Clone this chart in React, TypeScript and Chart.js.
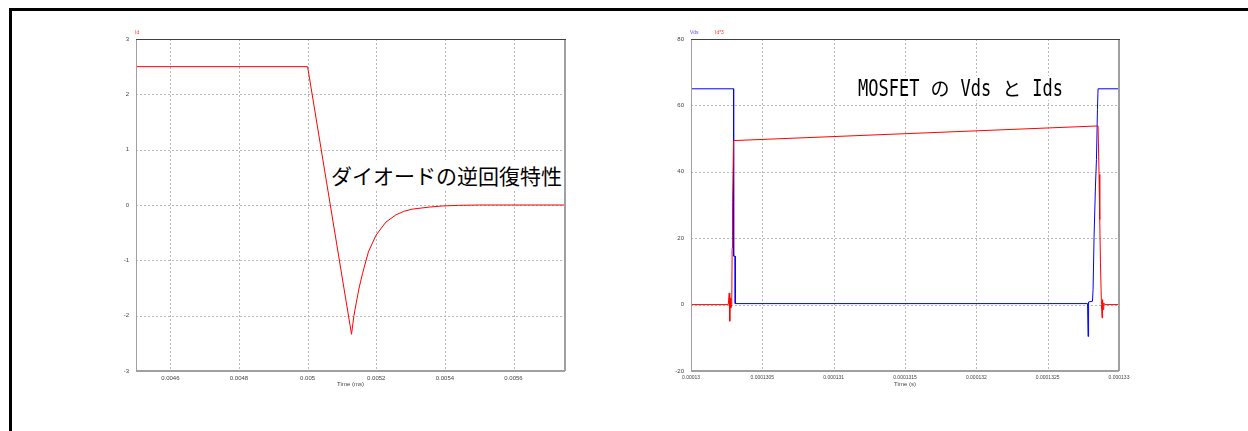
import React, { useEffect, useRef } from "react";
import { Chart, registerables } from "chart.js";

Chart.register(...registerables);
Chart.defaults.font.family = "'Liberation Sans', Arial, sans-serif";

// ---------- Left chart: diode reverse recovery (Id) ----------
const leftTime = [
  0.0045, 0.005, 0.005128, 0.005135, 0.005142, 0.00515, 0.00516, 0.005177,
  0.005199, 0.005228, 0.005257, 0.00528, 0.005305, 0.005354, 0.005392,
  0.00544, 0.0055, 0.00575,
];
const leftId = [
  2.5, 2.5, -2.336, -2.0, -1.76, -1.5, -1.24, -0.85, -0.55, -0.31, -0.18,
  -0.115, -0.075, -0.038, -0.018, -0.006, 0, 0,
];
const leftXTicks = [0.0046, 0.0048, 0.005, 0.0052, 0.0054, 0.0056];
const leftXLabels = ["0.0046", "0.0048", "0.005", "0.0052", "0.0054", "0.0056"];
const leftYTicks = [3, 2, 1, 0, -1, -2, -3];
const leftYLabels = ["3", "2", "1", "0", "-1", "-2", "-3"];
const leftXRange = [0.0045, 0.00575];
const leftYRange = [-3, 3];
const leftAxisTitle = "Time (ms)";
const leftSeriesNames = ["Id"];
const leftNote = "ダイオードの逆回復特性";

// ---------- Right chart: MOSFET Vds and Id*3 ----------
const rightVdsTime = [
  0.00013, 0.0001302982, 0.000130299, 0.000130309, 0.0001303101,
  0.0001327797, 0.0001327832, 0.0001327867, 0.000132814, 0.0001328182,
  0.0001328252, 0.000132835, 0.000132842, 0.000132849, 0.0001328532,
  0.000133,
];
const rightVds = [
  65, 65, 14.6, 14.6, 0.3, 0.3, -9.6, 0.8, 1.0, 4.5, 20.2, 35.7, 43.7, 58.8,
  65, 65,
];
const rightIdTime = [
  0.00013, 0.0001302611, 0.0001302681, 0.0001302716, 0.0001302751,
  0.0001302786, 0.0001302856, 0.0001302884, 0.0001302912, 0.0001302982,
  0.0001328476, 0.0001328532, 0.0001328602, 0.0001328651, 0.00013287,
  0.000132877, 0.0001328812, 0.0001328847, 0.0001328882, 0.0001328931,
  0.0001329001, 0.000133,
];
const rightId3 = [
  0, 0, 3.5, -5, 2, -1, 0, 17, 30.7, 49.4, 53.8, 53.8, 39.2, 25.6, 12.6, 0,
  -4, 1.5, -1.5, 0.5, 0, 0,
];
const rightXTicks = [
  0.00013, 0.0001305, 0.000131, 0.0001315, 0.000132, 0.0001325, 0.000133,
];
const rightXLabels = [
  "0.00013", "0.0001305", "0.000131", "0.0001315", "0.000132", "0.0001325",
  "0.000133",
];
const rightYTicks = [80, 60, 40, 20, 0, -20];
const rightYLabels = ["80", "60", "40", "20", "0", "-20"];
const rightXRange = [0.00013, 0.000133];
const rightYRange = [-20, 80];
const rightAxisTitle = "Time (s)";
const rightSeriesNames = ["Vds", "Id*3"];
const rightNoteParts = ["MOSFET", " ", "の", " ", "Vds", " ", "と", " ", "Ids"];

type Series = { xs: number[]; ys: number[]; color: string };

type PlotProps = {
  pageLeft: number;
  pageTop: number;
  width: number;
  height: number;
  yAxisWidth: number;
  padRight: number;
  padTop: number;
  padBottom: number;
  xAxisHeight: number;
  xRange: number[];
  yRange: number[];
  xTicks: number[];
  xLabels: string[];
  yTicks: number[];
  yLabels: string[];
  xFontSize: number;
  axisTitle: string;
  series: Series[];
  names: string[];
  nameColors: string[];
  nameOffsets: number[];
};

function Plot(p: PlotProps) {
  const ref = useRef<HTMLCanvasElement | null>(null);
  useEffect(() => {
    if (!ref.current) return;
    const frame = {
      id: "frame",
      beforeDatasetsDraw(chart: any) {
        const { ctx, chartArea } = chart;
        const { left, right, top, bottom } = chartArea;
        const xs = chart.scales.x;
        const ys = chart.scales.y;
        ctx.save();
        ctx.strokeStyle = "#b8b8b8";
        ctx.lineWidth = 1;
        ctx.setLineDash([2, 2]);
        p.xTicks.forEach((v) => {
          const px = Math.round(xs.getPixelForValue(v)) + 0.5;
          ctx.beginPath();
          ctx.moveTo(px, top);
          ctx.lineTo(px, bottom);
          ctx.stroke();
        });
        p.yTicks.forEach((v) => {
          const py = Math.round(ys.getPixelForValue(v)) + 0.5;
          ctx.beginPath();
          ctx.moveTo(left, py);
          ctx.lineTo(right, py);
          ctx.stroke();
        });
        ctx.restore();
      },
      afterDatasetsDraw(chart: any) {
        const { ctx, chartArea } = chart;
        const { left, right, top, bottom } = chartArea;
        ctx.save();
        ctx.setLineDash([]);
        ctx.strokeStyle = "#a0a0a0";
        ctx.lineWidth = 1;
        ctx.beginPath();
        ctx.moveTo(Math.round(left) + 0.5, top);
        ctx.lineTo(Math.round(left) + 0.5, bottom);
        ctx.stroke();
        ctx.lineWidth = 2;
        ctx.beginPath();
        ctx.moveTo(left, Math.round(bottom));
        ctx.lineTo(right, Math.round(bottom));
        ctx.stroke();
        ctx.beginPath();
        ctx.moveTo(Math.round(right), top);
        ctx.lineTo(Math.round(right), bottom);
        ctx.stroke();
        ctx.strokeStyle = "#404040";
        ctx.lineWidth = 1;
        ctx.beginPath();
        ctx.moveTo(left, Math.round(top) + 0.5);
        ctx.lineTo(right + 1, Math.round(top) + 0.5);
        ctx.stroke();
        ctx.font = "5px 'Liberation Sans', Arial, sans-serif";
        ctx.textBaseline = "middle";
        ctx.textAlign = "left";
        p.names.forEach((n, i) => {
          ctx.fillStyle = p.nameColors[i];
          ctx.fillText(n, left - 1 + p.nameOffsets[i], top - 6.5);
        });
        ctx.restore();
      },
    };
    const chart = new Chart(ref.current, {
      type: "line",
      data: {
        datasets: p.series.map((s) => ({
          data: s.xs.map((x, i) => ({ x, y: s.ys[i] })),
          borderColor: s.color,
          borderWidth: 1,
          pointRadius: 0,
          tension: 0,
          fill: false,
        })),
      },
      options: {
        animation: false,
        responsive: false,
        maintainAspectRatio: false,
        layout: {
          padding: {
            left: 0,
            right: p.padRight,
            top: p.padTop,
            bottom: p.padBottom,
          },
        },
        plugins: { legend: { display: false }, tooltip: { enabled: false } },
        scales: {
          x: {
            type: "linear",
            min: p.xRange[0],
            max: p.xRange[1],
            grid: { display: false, drawTicks: false },
            border: { display: false },
            afterBuildTicks: (s: any) => {
              s.ticks = p.xTicks.map((v) => ({ value: v }));
            },
            afterFit: (s: any) => {
              s.height = p.xAxisHeight;
            },
            ticks: {
              autoSkip: false,
              maxRotation: 0,
              minRotation: 0,
              padding: 4,
              color: "#444",
              font: { size: p.xFontSize },
              callback: (_v: any, i: number) => p.xLabels[i],
            },
            title: {
              display: true,
              text: p.axisTitle,
              color: "#444",
              font: { size: 6 },
              padding: 0,
            },
          },
          y: {
            type: "linear",
            min: p.yRange[0],
            max: p.yRange[1],
            grid: { display: false, drawTicks: false },
            border: { display: false },
            afterBuildTicks: (s: any) => {
              s.ticks = p.yTicks.map((v) => ({ value: v }));
            },
            afterFit: (s: any) => {
              s.width = p.yAxisWidth;
            },
            ticks: {
              autoSkip: false,
              padding: 7,
              color: "#444",
              font: { size: 6 },
              callback: (_v: any, i: number) => p.yLabels[i],
            },
          },
        },
      },
      plugins: [frame],
    } as any);
    return () => chart.destroy();
  }, []);
  return (
    <canvas
      ref={ref}
      width={p.width}
      height={p.height}
      style={{
        position: "absolute",
        left: p.pageLeft,
        top: p.pageTop,
        width: p.width,
        height: p.height,
      }}
    />
  );
}

export default function App() {
  const plotH = 390;
  return (
    <div
      style={{
        position: "absolute",
        left: 0,
        top: 0,
        width: 1248,
        height: 431,
        overflow: "hidden",
        background: "#fff",
      }}
    >
      <div
        style={{
          position: "absolute",
          left: 9,
          top: 8,
          width: 1239,
          height: 423,
          boxSizing: "border-box",
          borderTop: "3px solid #000",
          borderLeft: "3px solid #000",
        }}
      />
      <Plot
        pageLeft={100}
        pageTop={20}
        width={500}
        height={plotH}
        yAxisWidth={36}
        padRight={35}
        padTop={19}
        padBottom={22}
        xAxisHeight={17}
        xRange={leftXRange}
        yRange={leftYRange}
        xTicks={leftXTicks}
        xLabels={leftXLabels}
        yTicks={leftYTicks}
        yLabels={leftYLabels}
        xFontSize={6}
        axisTitle={leftAxisTitle}
        series={[{ xs: leftTime, ys: leftId, color: "#ff0000" }]}
        names={leftSeriesNames}
        nameColors={["#ff3030"]}
        nameOffsets={[0]}
      />
      <Plot
        pageLeft={650}
        pageTop={20}
        width={500}
        height={plotH}
        yAxisWidth={41}
        padRight={31}
        padTop={19}
        padBottom={22}
        xAxisHeight={17}
        xRange={rightXRange}
        yRange={rightYRange}
        xTicks={rightXTicks}
        xLabels={rightXLabels}
        yTicks={rightYTicks}
        yLabels={rightYLabels}
        xFontSize={5}
        axisTitle={rightAxisTitle}
        series={[
          { xs: rightIdTime, ys: rightId3, color: "#ff0000" },
          { xs: rightVdsTime, ys: rightVds, color: "#0000ff" },
        ]}
        names={rightSeriesNames}
        nameColors={["#5050ff", "#ff3030"]}
        nameOffsets={[0, 25]}
      />
      <div
        style={{
          position: "absolute",
          left: 329,
          top: 160,
          padding: "5px 2px",
          background: "#fff",
          fontFamily: "'Noto Sans CJK JP', sans-serif",
          fontSize: 21,
          lineHeight: "21px",
          color: "#000",
          whiteSpace: "nowrap",
        }}
      >
        {leftNote}
      </div>
      <div
        style={{
          position: "absolute",
          left: 856,
          top: 76,
          height: 24,
          padding: "0 2px",
          background: "#fff",
          display: "flex",
          alignItems: "center",
          whiteSpace: "pre",
          color: "#000",
        }}
      >
        {rightNoteParts.map((t, i) => {
          const cjk = /[^\x00-\x7f]/.test(t);
          return (
            <span
              key={i}
              style={
                cjk
                  ? {
                      display: "inline-block",
                      fontFamily: "'Noto Sans CJK JP', sans-serif",
                      fontSize: 19,
                      lineHeight: "24px",
                      width: 20.6,
                      textAlign: "center",
                    }
                  : {
                      display: "inline-block",
                      fontFamily: "'DejaVu Sans Mono', monospace",
                      fontSize: 17,
                      lineHeight: "24px",
                      transform: "scaleY(1.35)",
                      transformOrigin: "50% 50%",
                    }
              }
            >
              {t}
            </span>
          );
        })}
      </div>
    </div>
  );
}
